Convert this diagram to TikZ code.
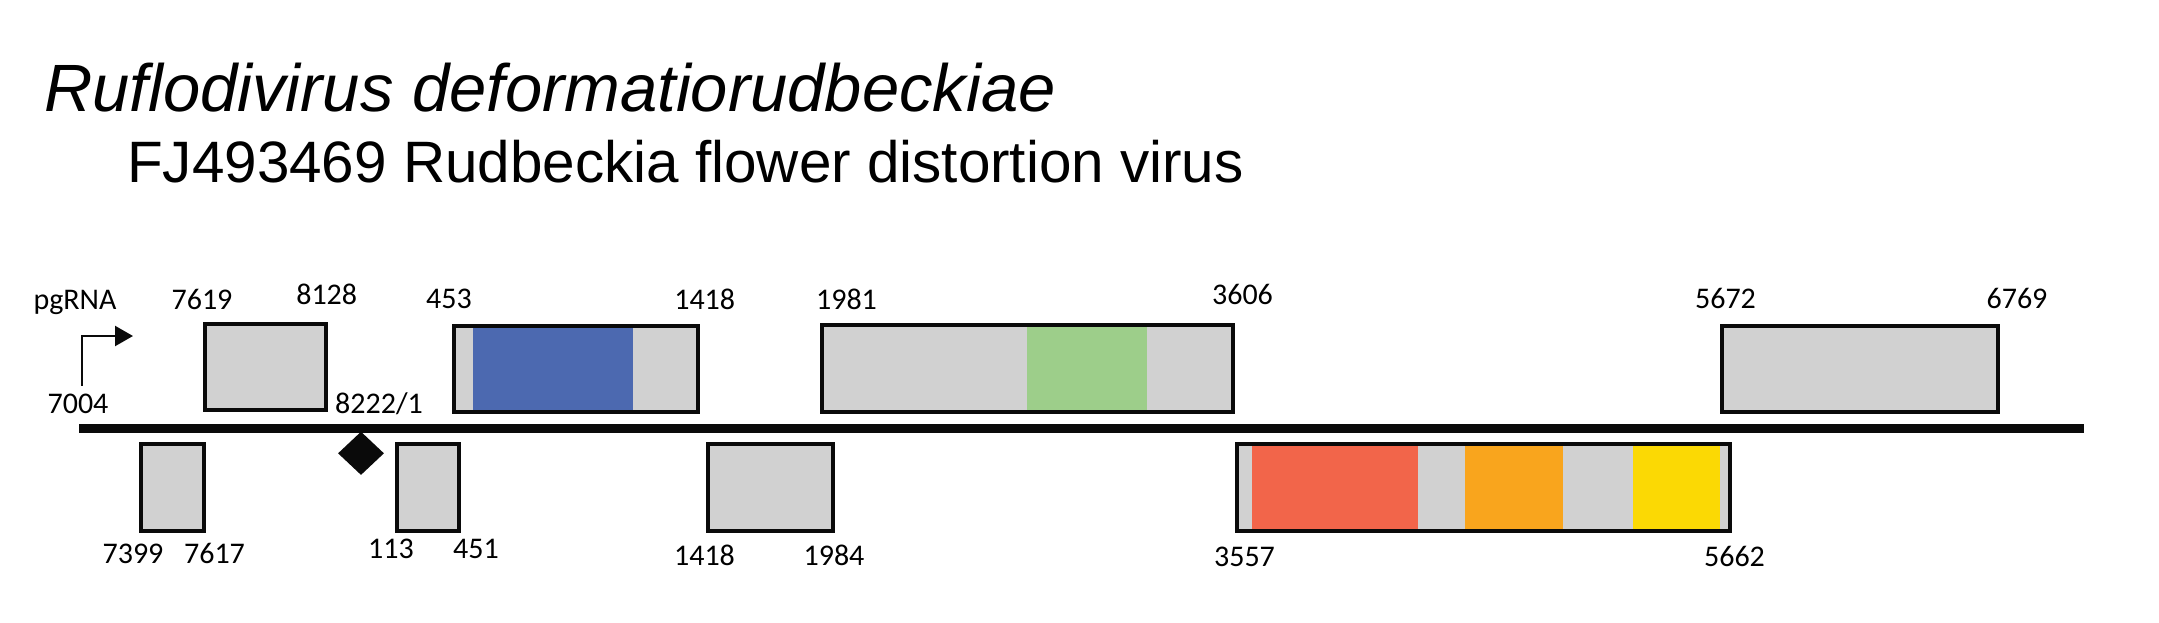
\documentclass[tikz,border=0pt]{standalone}
\usepackage{fontspec}
\setmainfont{Carlito}
\newfontfamily\titlefont{Liberation Sans}
\usetikzlibrary{arrows.meta,shapes.geometric}
\definecolor{boxgray}{RGB}{209,209,209}
\definecolor{edgeblack}{RGB}{10,10,10}
\definecolor{segblue}{RGB}{76,105,176}
\definecolor{seggreen}{RGB}{157,206,138}
\definecolor{segred}{RGB}{242,101,74}
\definecolor{segorange}{RGB}{249,165,29}
\definecolor{segyellow}{RGB}{251,217,4}
\tikzset{
  orfbox/.style={draw=edgeblack, fill=boxgray, line width=4pt, inner sep=0pt, outer sep=0pt, rectangle},
  seg/.style={draw=none, inner sep=0pt, outer sep=0pt, rectangle, minimum height=82.5pt},
  lbl/.style={anchor=base, inner sep=0pt, font=\fontsize{30}{36}\selectfont},
}
\begin{document}
\begin{tikzpicture}[x=1pt,y=-1pt]
\useasboundingbox (0,0) rectangle (2159,622);
% titles
\node[anchor=base west, inner sep=0pt, font=\titlefont\itshape\fontsize{66.9}{70}\selectfont] (title) at (44,111) {Ruflodivirus deformatiorudbeckiae};
\node[anchor=base west, inner sep=0pt, font=\titlefont\fontsize{58.4}{64}\selectfont] (subtitle) at (127,182.7) {FJ493469 Rudbeckia flower distortion virus};
% genome line
\coordinate (gstart) at (79,428.5);
\coordinate (gend) at (2084,428.5);
\draw[edgeblack, line width=8.4pt] (gstart) -- (gend);
% promoter
\coordinate (p0) at (81.7,385.7);
\coordinate (p1) at (81.7,336);
\coordinate (p2) at (133,336);
\draw[edgeblack, line width=2.3pt, -{Triangle[length=18pt,width=20pt]}] (p0) -- (p1) -- (p2);
% top boxes
\node[orfbox, minimum width=121pt, minimum height=86.6pt] (orfA) at (265.5,367) {};
\node[orfbox, minimum width=244pt, minimum height=86.5pt] (orfB) at (576,369.2) {};
\node[seg, fill=segblue, minimum width=160pt] (blue) at (553,369.2) {};
\node[orfbox, minimum width=411pt, minimum height=86.5pt] (orfC) at (1027.5,368.5) {};
\node[seg, fill=seggreen, minimum width=120pt] (green) at (1087,368.5) {};
\node[orfbox, minimum width=276.5pt, minimum height=86.5pt] (orfD) at (1859.75,369) {};
% bottom boxes
\node[orfbox, minimum width=63pt, minimum height=86.4pt] (orfE) at (172.5,487.5) {};
\node[orfbox, minimum width=61.5pt, minimum height=86.4pt] (orfF) at (427.75,487.5) {};
\node[orfbox, minimum width=125pt, minimum height=86.4pt] (orfG) at (770,487.5) {};
\node[orfbox, minimum width=492.5pt, minimum height=86.4pt] (orfH) at (1483.25,487.5) {};
\node[seg, fill=segred, minimum width=166.6pt] (red) at (1335,487.5) {};
\node[seg, fill=segorange, minimum width=98.3pt] (orange) at (1514.2,487.5) {};
\node[seg, fill=segyellow, minimum width=86.7pt] (yellow) at (1676.7,487.5) {};
% diamond
\node[diamond, fill=edgeblack, draw=none, inner sep=0pt, minimum width=46pt, minimum height=43.3pt] (junction) at (361,453.3) {};
% labels top
\node[lbl] (lpg) at (75,309) {pgRNA};
\node[lbl] (l7619) at (202,309) {7619};
\node[lbl] (l8128) at (326.7,304) {8128};
\node[lbl] (l453) at (449,308.3) {453};
\node[lbl] (l1418a) at (704.7,309.3) {1418};
\node[lbl] (l1981) at (846.5,309.3) {1981};
\node[lbl] (l3606) at (1242.5,304) {3606};
\node[lbl] (l5672) at (1725.5,308.3) {5672};
\node[lbl] (l6769) at (2017,308.3) {6769};
\node[lbl] (l7004) at (78,413.3) {7004};
\node[lbl] (l8222) at (379,413.5) {8222/1};
% labels bottom
\node[lbl] (l7399) at (133,563.3) {7399};
\node[lbl] (l7617) at (214.5,563.3) {7617};
\node[lbl] (l113) at (391,558.3) {113};
\node[lbl] (l451) at (476,558.3) {451};
\node[lbl] (l1418b) at (704.5,565) {1418};
\node[lbl] (l1984) at (834,565) {1984};
\node[lbl] (l3557) at (1244.5,566) {3557};
\node[lbl] (l5662) at (1734.5,566) {5662};
\end{tikzpicture}
\end{document}
